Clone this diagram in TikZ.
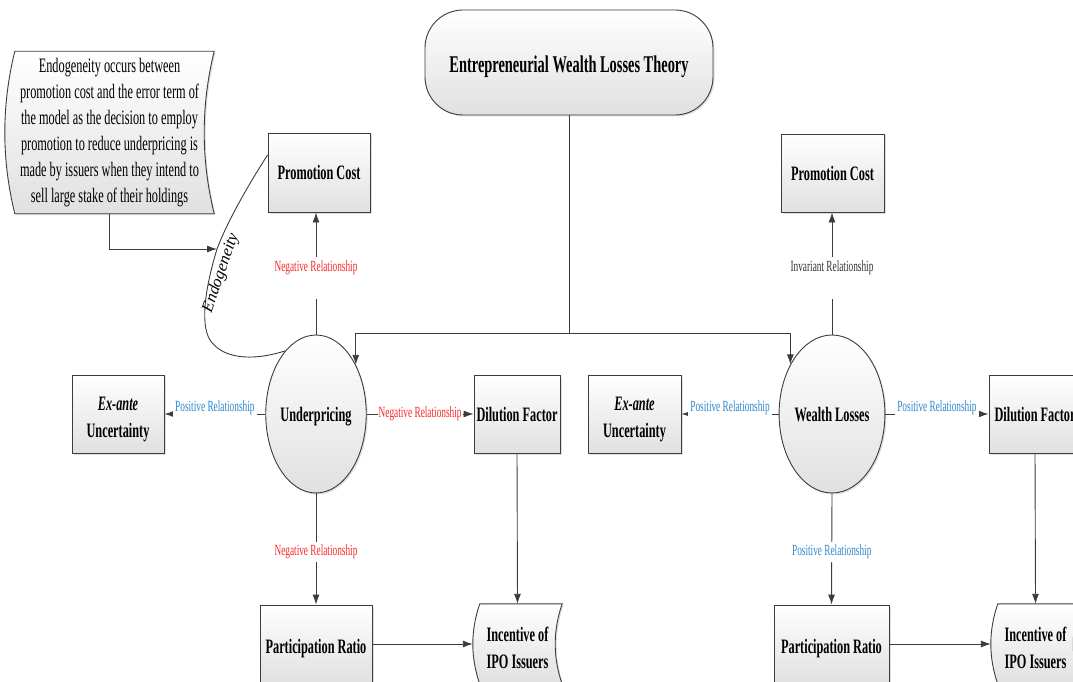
\documentclass[tikz,border=0pt]{standalone}
\usepackage{fontspec}
\setmainfont{Liberation Serif}[FakeStretch=0.6]
\newfontfamily\widefont{Liberation Serif}
\usetikzlibrary{arrows.meta,calc,shadows,shapes.geometric,backgrounds}

\definecolor{edge}{RGB}{60,60,60}
\definecolor{relred}{RGB}{250,40,40}
\definecolor{relblue}{RGB}{45,135,205}

\newcommand{\boxfont}{\bfseries\fontsize{20.5}{27}\selectfont}
\newcommand{\titlefont}{\bfseries\fontsize{24}{28}\selectfont}
\newcommand{\notefont}{\fontsize{20.5}{26}\selectfont}
\newcommand{\relfont}{\fontsize{15.5}{18}\selectfont}
% lower a line of text without changing its reported size
\newcommand{\dropby}[2]{\raisebox{-#1}[\height][\depth]{#2}}

\tikzset{
  panel/.style={draw=edge, line width=0.9pt, top color=white, bottom color=black!12,
    drop shadow={shadow xshift=1.5pt, shadow yshift=-1.5pt, opacity=0.25}},
  cardbox/.style={panel, rectangle, inner sep=0pt, align=center, font=\boxfont},
  ovalnode/.style={panel, ellipse, inner sep=0pt, minimum width=89pt,
    minimum height=158pt, font=\boxfont},
  textonly/.style={inner sep=0pt, align=center, font=\boxfont},
  conn/.style={draw=edge, line width=0.9pt},
  arr/.style={conn, -{Latex[length=10pt,width=7pt]}},
  rellabel/.style={font=\relfont, fill=white, inner sep=2.5pt},
  negrel/.style={rellabel, text=relred},
  posrel/.style={rellabel, text=relblue},
  neutrel/.style={rellabel, text=black!80},
  vgap/.style={text height=12pt, text depth=26pt, inner sep=2pt},
}

% panel whose left and right sides are arcs bowing to the left
\newcommand{\bowpanel}[2]{%
  \path[panel] ($(#1.north west)+(#2pt,0)$) -- (#1.north east)
    .. controls ($(#1.north east)!0.3333!(#1.south east)+(-1.3333*#2pt,0)$)
       and ($(#1.north east)!0.6667!(#1.south east)+(-1.3333*#2pt,0)$) .. (#1.south east)
    -- ($(#1.south west)+(#2pt,0)$)
    .. controls ($(#1.north west)!0.6667!(#1.south west)+(-0.3333*#2pt,0)$)
       and ($(#1.north west)!0.3333!(#1.south west)+(-0.3333*#2pt,0)$) .. ($(#1.north west)+(#2pt,0)$)
    -- cycle;}

\begin{document}
\begin{tikzpicture}[x=1pt, y=-1pt]
\clip (0,0) rectangle (1073,682);

% theory heading
\node[cardbox, minimum width=288pt, minimum height=105pt, rounded corners=38pt,
      font=\titlefont] (title) at (569,62.5) {\dropby{4pt}{Entrepreneurial Wealth Losses Theory}};

% explanatory note on endogeneity
\node[textonly, font=\notefont, minimum width=209pt, minimum height=162pt] (note)
  at (109.5,132.5) {Endogeneity occurs between\\promotion cost and the error term of\\
  the model as the decision to employ\\promotion to reduce underpricing is\\
  made by issuers when they intend to\\sell large stake of their holdings};

% left model: underpricing
\node[cardbox, minimum width=102pt, minimum height=79pt] (pcL) at (319,172.5) {Promotion Cost};
\node[ovalnode] (under) at (316,414) {\dropby{3pt}{Underpricing}};
\node[cardbox, minimum width=92pt, minimum height=78pt] (exL) at (118,414)
  {\dropby{5pt}{\textit{Ex-ante}}\\\dropby{5pt}{Uncertainty}};
\node[cardbox, minimum width=86pt, minimum height=78pt] (dilL) at (517,414) {\dropby{1pt}{Dilution Factor}};
\node[cardbox, minimum width=112pt, minimum height=78pt] (prL) at (316,644) {\dropby{5pt}{Participation Ratio}};
\node[textonly, minimum width=89pt, minimum height=80pt] (incL) at (517.5,644)
  {\dropby{4pt}{Incentive of}\\\dropby{4pt}{IPO Issuers}};

% right model: wealth losses
\node[cardbox, minimum width=103pt, minimum height=78pt] (pcR) at (832.5,173) {Promotion Cost};
\node[ovalnode, minimum width=88pt] (wealth) at (832,414) {\dropby{1pt}{Wealth Losses}};
\node[cardbox, minimum width=93pt, minimum height=78pt] (exR) at (634.5,414)
  {\dropby{5pt}{\textit{Ex-ante}}\\\dropby{5pt}{Uncertainty}};
\node[cardbox, minimum width=92pt, minimum height=78pt] (dilR) at (1035,414) {\dropby{1pt}{Dilution Factor}};
\node[cardbox, minimum width=115pt, minimum height=78pt] (prR) at (831.5,644) {\dropby{5pt}{Participation Ratio}};
\node[textonly, minimum width=89pt, minimum height=80pt] (incR) at (1035.5,644)
  {\dropby{4pt}{Incentive of}\\\dropby{4pt}{IPO Issuers}};

% bowed panels behind the text-only nodes
\begin{pgfonlayer}{background}
  \bowpanel{note}{10}
  \bowpanel{incL}{7}
  \bowpanel{incR}{7}
\end{pgfonlayer}

% links from the theory to both models
\coordinate (hub) at (569,333);
\draw[conn] (title.south) -- (hub);
\draw[arr] (hub) -| (under.51);
\draw[arr] (hub) -| (wealth.130);

% endogeneity between promotion cost and underpricing
\coordinate (endo) at (217,249);
\draw[conn] ([yshift=17.5pt]pcL.west) .. controls (245,190) and (226,225) .. (endo)
  .. controls (207,282) and (199,322) .. (210,340)
  .. controls (222,358) and (250,362) .. (under.116);
\node[font=\widefont\fontsize{16.5}{18}\selectfont\itshape, inner sep=0pt, rotate=71]
  (endolbl) at (221,273) {Endogeneity};
\draw[arr] (note.south) |- (endo);

% left model relationships
\draw[arr] (under.north) -- (under.north |- pcL.south)
  node[negrel, vgap, pos=0.46] {Negative Relationship};
\draw[arr] (under.west) -- (exL.east)
  node[posrel, midway, yshift=6pt] {Positive Relationship};
\draw[arr] (under.east) -- (dilL.west)
  node[negrel, midway, inner xsep=1pt] {Negative Relationship};
\draw[arr] (under.south) -- (prL.north)
  node[negrel, midway, yshift=-3pt] {Negative Relationship};
\draw[arr] (dilL.south) -- (incL.north);
\draw[arr] (prL.east) -- (incL.west);

% right model relationships
\draw[arr] (wealth.north) -- (wealth.north |- pcR.south)
  node[neutrel, vgap, pos=0.46] {Invariant Relationship};
\draw[arr] (wealth.west) -- (exR.east)
  node[posrel, midway, yshift=6pt] {Positive Relationship};
\draw[arr] (wealth.east) -- (dilR.west)
  node[posrel, midway, yshift=6pt] {Positive Relationship};
\draw[arr] (wealth.south) -- (prR.north)
  node[posrel, midway, yshift=-3pt] {Positive Relationship};
\draw[arr] (dilR.south) -- (incR.north);
\draw[arr] (prR.east) -- (incR.west);
\end{tikzpicture}
\end{document}
